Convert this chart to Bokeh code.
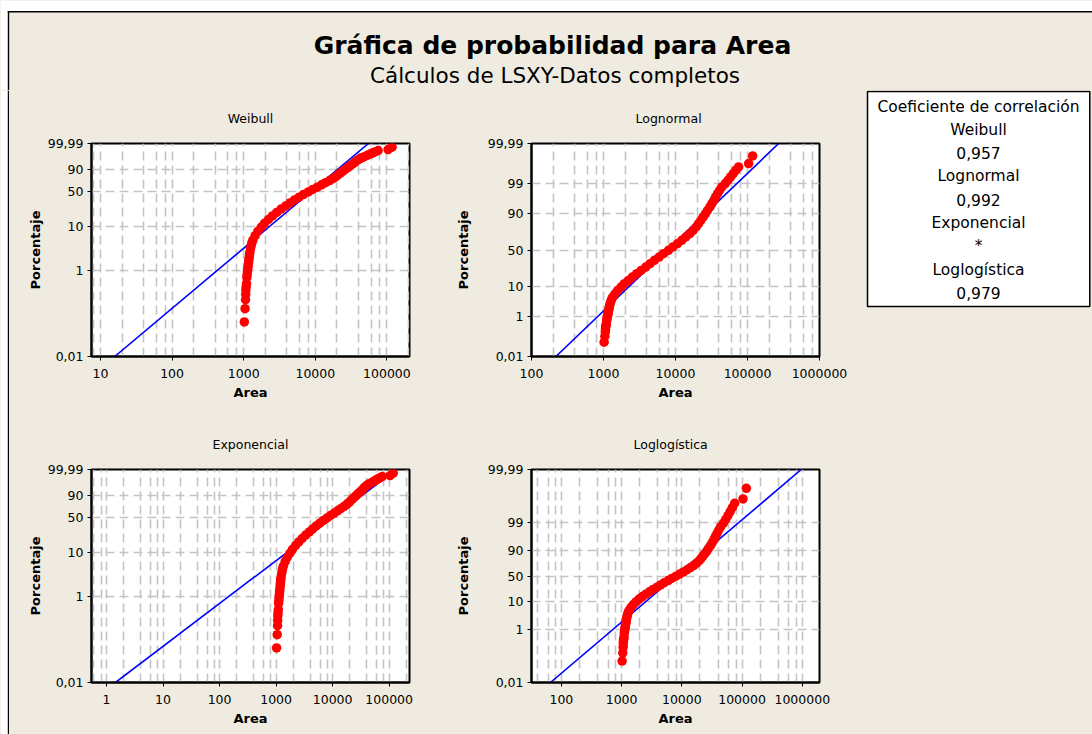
import math
from statistics import NormalDist
from bokeh.plotting import figure
from bokeh.layouts import row, column
from bokeh.models import Range1d, FixedTicker, NumeralTickFormatter
from bokeh.embed import file_html
from bokeh.resources import INLINE
from bokeh.core.properties import value

# ---------------- data ----------------
# sorted Area values and their plotting position (percent)
area = [1020, 1045, 1060, 1066, 1071, 1082, 1094, 1106, 1118, 1129,
        1142, 1154, 1166, 1179, 1192, 1204, 1218, 1243, 1271, 1298,
        1341, 1444, 1573, 1751, 1948, 2215, 2518, 2893, 3325, 3861,
        4436, 5096, 5918, 6800, 7984, 9176, 10652, 12240, 13911, 15820,
        17600, 19390, 20890, 22510, 24260, 26150, 27870, 30040, 32030, 34150,
        36010, 38400, 40950, 44130, 49110, 53500, 58270, 63470, 69130, 75290,
        103700, 117900]
percent = [0.064, 0.13, 0.21, 0.28, 0.354, 0.421, 0.50, 0.695, 0.815, 0.955,
           1.12, 1.30, 1.50, 1.74, 2.01, 2.31, 2.65, 3.19, 3.72, 4.33,
           5.01, 6.33, 7.91, 9.77, 11.94, 14.43, 17.24, 20.38, 23.83, 27.59,
           31.62, 35.87, 40.30, 44.88, 49.51, 54.15, 58.75, 63.21, 67.50, 71.59,
           75.40, 78.92, 82.13, 85.01, 87.56, 89.80, 91.72, 93.36, 94.74, 95.87,
           96.80, 97.55, 98.15, 98.62, 98.98, 99.257, 99.465, 99.620, 99.733, 99.815,
           99.873, 99.949]

dist_names = ["Weibull", "Lognormal", "Exponencial", "Loglogística"]
corr_labels = ["0,957", "0,992", "*", "0,979"]
# fitted line: Area where it reaches 0,01 % and 99,99 %
fit_area_lo = [15.8, 218.0, 1.44, 65.8]
fit_area_hi = [55200.0, 271000.0, 133000.0, 961000.0]
x_start = [7.49, 100.0, 0.542, 31.9]
x_end = [206600.0, 1000000.0, 229000.0, 1930000.0]
x_decades = [[10, 100, 1000, 10000, 100000],
             [100, 1000, 10000, 100000, 1000000],
             [1, 10, 100, 1000, 10000, 100000],
             [100, 1000, 10000, 100000, 1000000]]
y_tick_pct = [[0.01, 1, 10, 50, 90, 99.99],
              [0.01, 1, 10, 50, 90, 99, 99.99],
              [0.01, 1, 10, 50, 90, 99.99],
              [0.01, 1, 10, 50, 90, 99, 99.99]]

title_text = "Gráfica de probabilidad para Area"
subtitle_text = "Cálculos de LSXY-Datos completos"
legend_head = "Coeficiente de correlación"

BEIGE = "#EFEBE0"
FONT = "DejaVu Sans"


# probability scales
def t_weibull(pct):
    q = pct / 100.0
    return math.log(-math.log(1.0 - q))


_nd = NormalDist()


def t_normal(pct):
    return _nd.inv_cdf(pct / 100.0)


def t_logistic(pct):
    q = pct / 100.0
    return math.log(q / (1.0 - q))


dist_scales = [t_weibull, t_normal, t_weibull, t_logistic]


def pct_label(v):
    return ("%g" % v).replace(".", ",")


def make_panel(i, width, height, mbl, mbr, mbt, mbb, ylab_standoff, title_align, title_offset):
    tf = dist_scales[i]
    ylo, yhi = tf(0.01), tf(99.99)
    p = figure(width=width, height=height, x_axis_type="log",
               x_range=Range1d(x_start[i], x_end[i]), y_range=Range1d(ylo, yhi),
               output_backend="svg", toolbar_location=None,
               min_border_left=mbl, min_border_right=mbr,
               min_border_top=mbt, min_border_bottom=mbb,
               background_fill_color="white", border_fill_color=BEIGE,
               outline_line_color="black", outline_line_width=2,
               title=dist_names[i])
    p.title.align = title_align
    p.title.offset = title_offset
    p.title.text_font = FONT
    p.title.text_font_size = "12.5px"
    p.title.text_font_style = "normal"
    p.title.text_color = "black"
    p.title.standoff = 35

    xa = p.xaxis[0]
    xa.ticker = FixedTicker(ticks=x_decades[i], minor_ticks=[])
    xa.formatter = NumeralTickFormatter(format="0")
    xa.axis_label = "Area"
    xa.axis_label_standoff = 4
    xa.major_label_standoff = 8

    ya = p.yaxis[0]
    ya.ticker = FixedTicker(ticks=[tf(v) for v in y_tick_pct[i]], minor_ticks=[])
    ya.major_label_overrides = {tf(v): pct_label(v) for v in y_tick_pct[i]}
    ya.axis_label = "Porcentaje"
    ya.axis_label_standoff = ylab_standoff
    ya.major_label_standoff = 4

    for ax in (xa, ya):
        ax.axis_line_color = "black"
        ax.axis_line_width = 2
        ax.major_tick_in = 0
        ax.major_tick_out = 4
        ax.major_tick_line_color = "black"
        ax.minor_tick_line_color = None
        ax.major_label_text_font = FONT
        ax.major_label_text_font_size = "12.5px"
        ax.major_label_text_color = "black"
        ax.axis_label_text_font = FONT
        ax.axis_label_text_font_size = "13px"
        ax.axis_label_text_font_style = "bold"
        ax.axis_label_text_color = "black"

    gx = [m * 10.0 ** k for k in range(-1, 7) for m in (1, 2, 4, 6, 8)
          if x_start[i] <= m * 10.0 ** k <= x_end[i]]
    p.xgrid.ticker = FixedTicker(ticks=gx, minor_ticks=[])
    p.ygrid.ticker = FixedTicker(ticks=[tf(v) for v in y_tick_pct[i] if 0.01 < v < 99.99],
                                 minor_ticks=[])
    for g in (p.xgrid, p.ygrid):
        g.grid_line_color = "#C4C4C4"
        g.grid_line_width = 1.6
        g.grid_line_dash = "9 5"

    p.line(x=[fit_area_lo[i], fit_area_hi[i]], y=[ylo, yhi],
           line_color="#0000FF", line_width=1.6)
    p.scatter(x=area, y=[tf(v) for v in percent], size=9.5,
              fill_color="#FF0000", line_color=None)
    return p


def blank(width, height):
    f = figure(width=width, height=height, x_range=Range1d(0, width), y_range=Range1d(height, 0),
               output_backend="svg", toolbar_location=None, min_border=0,
               x_axis_location=None, y_axis_location=None,
               background_fill_color=BEIGE, border_fill_color=BEIGE, outline_line_color=None)
    f.grid.visible = False
    return f


# header (page y 0..90)
hdr = blank(1092, 90)
hdr.quad(left=[0], right=[1092], top=[0], bottom=[10.5], fill_color="white", line_color=None)
hdr.quad(left=[0], right=[7.3], top=[0], bottom=[90], fill_color="white", line_color=None)
hdr.line(x=[7.3, 1092], y=[11.3, 11.3], line_color="black", line_width=1.6)
hdr.line(x=[8, 8], y=[10.5, 90], line_color="black", line_width=1.4)
hdr.text(x=[552], y=[45], text=[title_text], text_font=value(FONT), text_font_style="bold",
         text_font_size="25px", text_align="center", text_baseline="middle",
         text_color="black")
hdr.text(x=[554.5], y=[75], text=[subtitle_text], text_font=value(FONT),
         text_font_size="21.5px", text_align="center", text_baseline="middle",
         text_color="black")

# left border strip (page x 0..9)
strip = blank(9, 644)
strip.quad(left=[0], right=[7.3], top=[0], bottom=[644], fill_color="white", line_color=None)
strip.line(x=[8, 8], y=[0, 644], line_color="black", line_width=1.4)

# panels
pW = make_panel(0, 440, 324, 82, 40, 53, 58, 2, "center", 0)
pL = make_panel(1, 408, 324, 82, 38, 53, 58, 14, "left", 104)
pE = make_panel(2, 440, 320, 82, 40, 55, 52, 2, "center", 0)
pLL = make_panel(3, 408, 320, 82, 38, 55, 52, 14, "left", 102)

# legend box (page x 857..1092)
leg = blank(235, 644)
leg.quad(left=[10], right=[232.3], top=[1], bottom=[216], fill_color="white",
         line_color="black", line_width=1.5)
legend_lines = [legend_head] + [s for n, c in zip(dist_names, corr_labels) for s in (n, c)]
leg.text(x=[121] * len(legend_lines), y=[16 + 23.3 * k for k in range(len(legend_lines))],
         text=legend_lines, text_font=value(FONT), text_font_size="15.5px",
         text_align="center", text_baseline="middle", text_color="black")

bg = {"background-color": BEIGE}
panels = column(row(pW, pL, styles=bg), row(pE, pLL, styles=bg), styles=bg)
layout = column(hdr, row(strip, panels, leg, styles=bg), styles=bg)

open("out.html", "w").write(file_html(layout, INLINE))
